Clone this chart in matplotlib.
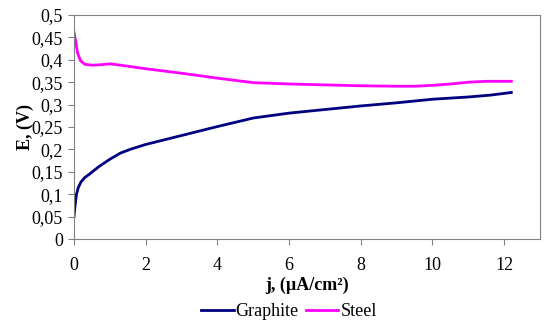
import numpy as np
import matplotlib.pyplot as plt
from matplotlib.ticker import FuncFormatter

plt.rcParams['font.family'] = ['Liberation Serif', 'DejaVu Serif']

j_graphite = [0, 0.03, 0.07, 0.12, 0.2, 0.3, 0.45, 0.7, 1.0, 1.3, 1.6, 2.0, 3.0, 4.0, 5.0, 6.0, 7.0, 8.0, 9.0, 10.0, 11.0, 11.6, 12.2]
e_graphite = [0.05, 0.075, 0.1, 0.115, 0.128, 0.137, 0.146, 0.162, 0.178, 0.192, 0.201, 0.211, 0.231, 0.251, 0.27, 0.281, 0.289, 0.297, 0.304, 0.312, 0.317, 0.321, 0.327]

j_steel = [0, 0.04, 0.1, 0.18, 0.3, 0.5, 0.75, 1.0, 1.3, 2.0, 3.0, 4.0, 5.0, 6.0, 7.0, 8.0, 9.0, 9.5, 10.0, 10.5, 11.0, 11.5, 12.2]
e_steel = [0.461, 0.445, 0.415, 0.398, 0.39, 0.388, 0.389, 0.391, 0.388, 0.38, 0.37, 0.359, 0.349, 0.346, 0.344, 0.342, 0.341, 0.341, 0.343, 0.346, 0.35, 0.352, 0.352]

fig = plt.figure(figsize=(5.5, 3.31), dpi=100)
ax = fig.add_axes([74/550, 92/331, 466/550, 224/331])

ax.plot(j_graphite, e_graphite, color='#000080', lw=2, label='Graphite')
ax.plot(j_steel, e_steel, color='#FF00FF', lw=2, label='Steel')

ax.set_xlim(0, 13)
ax.set_ylim(0, 0.5)
ax.set_xticks(np.arange(0, 13, 2))
ax.set_yticks(np.arange(0, 0.51, 0.05))
ax.yaxis.set_major_formatter(FuncFormatter(lambda v, p: ('%g' % round(v, 2)).replace('.', ',')))
ax.tick_params(labelsize=13, length=4, color='#808080', direction='out')
ax.tick_params(axis='x', pad=9)
ax.tick_params(axis='y', pad=4)
for s in ax.spines.values():
    s.set_color('#808080')
ax.set_xlabel('j, (\u00b5A/cm\u00b2)', fontsize=13, fontweight='bold', labelpad=2)
ax.set_ylabel('E, (V)', fontsize=13, fontweight='bold', labelpad=-2)
fig.legend(*ax.get_legend_handles_labels(), loc='center', bbox_to_anchor=(289/550, 1 - 312/331),
           ncol=2, frameon=False, fontsize=13, handlelength=1.8, handletextpad=0.1, columnspacing=0.4)

plt.savefig('out.png')
